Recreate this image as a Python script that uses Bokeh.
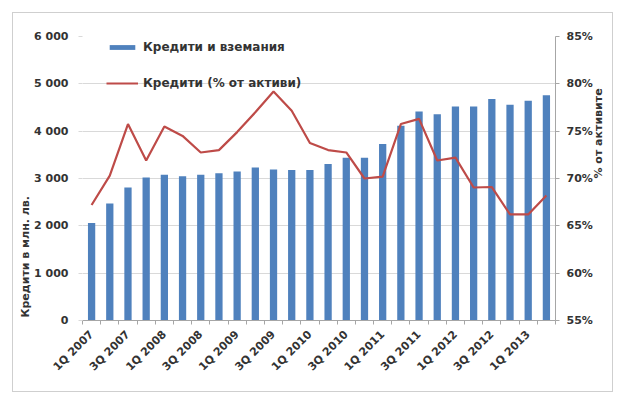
import math
from bokeh.plotting import figure
from bokeh.models import (Range1d, LinearAxis, FixedTicker, Legend, LegendItem,
                          ColumnDataSource, Title)
from bokeh.embed import file_html
from bokeh.resources import INLINE

categories = ["1Q 2007", "2Q 2007", "3Q 2007", "4Q 2007",
              "1Q 2008", "2Q 2008", "3Q 2008", "4Q 2008",
              "1Q 2009", "2Q 2009", "3Q 2009", "4Q 2009",
              "1Q 2010", "2Q 2010", "3Q 2010", "4Q 2010",
              "1Q 2011", "2Q 2011", "3Q 2011", "4Q 2011",
              "1Q 2012", "2Q 2012", "3Q 2012", "4Q 2012",
              "1Q 2013", "2Q 2013"]
loans = [2060, 2470, 2810, 3020, 3080, 3050, 3080, 3110, 3150, 3230, 3190, 3180, 3180,
         3305, 3440, 3440, 3727, 4114, 4416, 4360, 4520, 4520, 4680, 4560, 4640, 4760]
loans_pct = [67.2, 70.3, 75.75, 71.9, 75.5, 74.5, 72.75, 73.0, 74.9, 77.0, 79.2, 77.15, 73.75,
             73.0, 72.75, 70.0, 70.2, 75.75, 76.3, 71.9, 72.2, 69.05, 69.1, 66.2, 66.2, 68.2]
left_ticks = [0, 1000, 2000, 3000, 4000, 5000, 6000]
left_tick_labels = ["0", "1 000", "2 000", "3 000", "4 000", "5 000", "6 000"]
right_ticks = [55, 60, 65, 70, 75, 80, 85]
right_tick_labels = ["55%", "60%", "65%", "70%", "75%", "80%", "85%"]
bar_label = "Кредити и вземания"
line_label = "Кредити (% от активи)"
left_title = "Кредити в млн. лв."
right_title = "% от активите"

FONT = "DejaVu Sans"
TXT = "#333333"
GRID = "#d9d9d9"
AXIS = "#a6a6a6"

x = list(range(len(categories)))
src = ColumnDataSource(dict(x=x, loans=loans, pct=loans_pct))

p = figure(width=601, height=380, output_backend="svg", toolbar_location=None,
           x_range=Range1d(-0.5, len(categories) - 0.5),
           y_range=Range1d(left_ticks[0], left_ticks[-1]),
           min_border_left=69, min_border_right=58, min_border_top=23, min_border_bottom=73)
p.styles = {"border": "1px solid #cfcfcf"}
p.margin = (12, 0, 0, 12)
p.extra_y_ranges = {"pct": Range1d(right_ticks[0], right_ticks[-1])}
p.outline_line_color = None
p.background_fill_color = "white"
p.border_fill_color = "white"

bars = p.vbar(x="x", top="loans", width=0.4, source=src, fill_color="#4f81bd",
              line_color=None)
ln = p.line(x="x", y="pct", source=src, y_range_name="pct", line_color="#be4b48",
            line_width=2.2)

# x axis
xa = p.xaxis[0]
xa.ticker = FixedTicker(ticks=[i for i in x if i % 2 == 0],
                        minor_ticks=[i - 0.5 for i in range(len(categories) + 1)])
xa.major_label_overrides = {i: categories[i] for i in x}
xa.major_tick_out = 0
xa.major_tick_in = 0
xa.minor_tick_out = 4
xa.minor_tick_in = 0
xa.minor_tick_line_color = AXIS
xa.axis_line_color = AXIS
xa.major_label_orientation = math.pi / 4
xa.major_label_text_font = FONT
xa.major_label_text_font_size = "11px"
xa.major_label_text_font_style = "bold"
xa.major_label_text_color = TXT
xa.major_label_standoff = 8

# left axis
ya = p.yaxis[0]
ya.ticker = FixedTicker(ticks=left_ticks)
ya.major_label_overrides = {t: l for t, l in zip(left_ticks, left_tick_labels)}
ya.axis_line_color = None
ya.major_tick_out = 4
ya.major_tick_in = 0
ya.major_tick_line_color = GRID
ya.minor_tick_line_color = None
ya.major_label_text_font = FONT
ya.major_label_text_font_size = "11px"
ya.major_label_text_font_style = "bold"
ya.major_label_text_color = TXT
ya.major_label_standoff = 10

lt = Title(text=left_title, align="left", offset=3, standoff=0,
           text_font=FONT, text_font_size="11px", text_font_style="bold",
           text_color=TXT)
p.add_layout(lt, "left")

# right axis
ra = LinearAxis(y_range_name="pct", ticker=FixedTicker(ticks=right_ticks))
ra.major_label_overrides = {t: l for t, l in zip(right_ticks, right_tick_labels)}
ra.axis_line_color = AXIS
ra.major_tick_out = 4
ra.major_tick_in = 0
ra.major_tick_line_color = AXIS
ra.minor_tick_line_color = None
ra.major_label_text_font = FONT
ra.major_label_text_font_size = "11px"
ra.major_label_text_font_style = "bold"
ra.major_label_text_color = TXT
ra.major_label_standoff = 7
ra.axis_label = right_title
ra.axis_label_text_font = FONT
ra.axis_label_text_font_size = "11px"
ra.axis_label_text_font_style = "bold"
ra.axis_label_text_color = TXT
ra.axis_label_standoff = 3
ra.axis_label_orientation = math.pi / 2
p.add_layout(ra, "right")

p.xgrid.grid_line_color = None
p.ygrid.grid_line_color = GRID
p.ygrid.ticker = FixedTicker(ticks=left_ticks)

legend = Legend(items=[LegendItem(label=bar_label, renderers=[bars]),
                       LegendItem(label=line_label, renderers=[ln])],
                location=(24, 229), orientation="vertical",
                glyph_width=32, glyph_height=6, label_height=16, spacing=20,
                padding=0, margin=0, label_standoff=5,
                background_fill_alpha=0, border_line_color=None,
                label_text_font=FONT, label_text_font_size="12px",
                label_text_font_style="bold", label_text_color=TXT)
p.add_layout(legend, "center")

open("out.html", "w").write(file_html(p, INLINE))
